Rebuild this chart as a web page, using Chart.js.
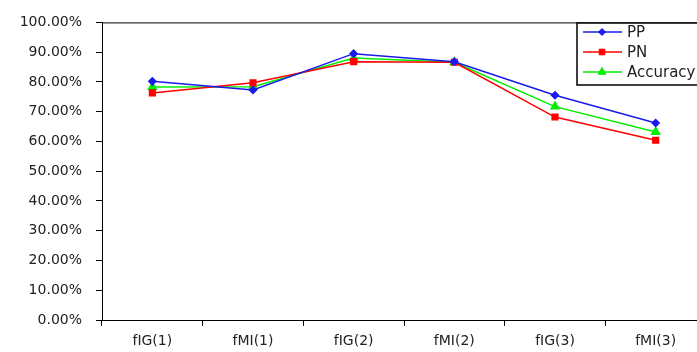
<!DOCTYPE html>
<html>
<head>
<meta charset="utf-8">
<script src="https://cdn.jsdelivr.net/npm/chart.js@4/dist/chart.umd.min.js"></script>
<style>
  html, body { margin: 0; padding: 0; background: #fff; overflow: hidden; }
  .chartBox { width: 712px; height: 352px; }
</style>
</head>
<body>
<div class="chartBox"><canvas id="myChart" width="712" height="352"></canvas></div>
<script>
const categories = ['fIG(1)', 'fMI(1)', 'fIG(2)', 'fMI(2)', 'fIG(3)', 'fMI(3)'];
const ppValues = [80.2, 77.3, 89.5, 86.8, 75.5, 66.2];
const pnValues = [76.3, 79.7, 86.8, 86.6, 68.2, 60.4];
const accuracyValues = [78.3, 78.4, 88.0, 86.6, 71.7, 63.2];
const yTicks = [0, 10, 20, 30, 40, 50, 60, 70, 80, 90, 100];

const FONT = 'DejaVu Sans';

// box around the plot area + boxed legend in the top right corner
const frameAndLegend = {
  id: 'frameAndLegend',
  afterDraw(chart) {
    const ctx = chart.ctx;
    const a = chart.chartArea;
    ctx.save();
    ctx.strokeStyle = '#000';
    ctx.lineWidth = 1;
    ctx.strokeRect(a.left + 0.5, a.top + 0.5, a.right - a.left, a.bottom - a.top);

    const bx = 577, by = 23, bw = 150, bh = 62;
    ctx.fillStyle = '#fff';
    ctx.fillRect(bx, by, bw, bh);
    ctx.lineWidth = 1.5;
    ctx.strokeRect(bx, by, bw, bh);

    chart.data.datasets.forEach((ds, i) => {
      const y = 32 + i * 20;
      ctx.strokeStyle = ds.borderColor;
      ctx.fillStyle = ds.borderColor;
      ctx.lineWidth = 1.5;
      ctx.beginPath();
      ctx.moveTo(583, y);
      ctx.lineTo(622, y);
      ctx.stroke();
      ctx.lineWidth = 1;
      Chart.helpers.drawPoint(ctx, {
        pointStyle: ds.pointStyle,
        radius: ds.pointRadius,
        borderWidth: 1
      }, 602, y);
      ctx.fillStyle = '#222';
      ctx.font = '15px "' + FONT + '"';
      ctx.textBaseline = 'middle';
      ctx.textAlign = 'left';
      ctx.fillText(ds.label, 627, y + 1);
    });
    ctx.restore();
  }
};

function series(label, data, color, style, r) {
  return {
    label,
    data,
    borderColor: color,
    backgroundColor: color,
    pointBackgroundColor: color,
    pointBorderColor: color,
    pointStyle: style,
    pointRadius: r,
    pointHoverRadius: r,
    borderWidth: 1.5,
    tension: 0
  };
}

const config = {
  type: 'line',
  data: {
    labels: categories,
    datasets: [
      series('PP', ppValues, '#1a1aee', 'rectRot', 3.5),
      series('PN', pnValues, '#ff0000', 'rect', 4),
      series('Accuracy', accuracyValues, '#00ee00', 'triangle', 4.5)
    ]
  },
  options: {
    responsive: false,
    animation: false,
    layout: { padding: { top: 19, right: 5, left: 0, bottom: 0 } },
    plugins: {
      legend: { display: false },
      tooltip: { enabled: false }
    },
    scales: {
      x: {
        offset: true,
        grid: {
          offset: true,
          drawOnChartArea: false,
          drawTicks: true,
          tickLength: 6,
          color: '#000'
        },
        border: { color: '#000', width: 1 },
        ticks: {
          color: '#222',
          padding: 7,
          font: { family: FONT, size: 14 }
        },
        afterFit(scale) { scale.height = 32; }
      },
      y: {
        min: 0,
        max: 100,
        afterBuildTicks(scale) { scale.ticks = yTicks.map(v => ({ value: v })); },
        grid: {
          drawOnChartArea: false,
          drawTicks: true,
          tickLength: 6,
          color: '#000'
        },
        border: { color: '#000', width: 1 },
        ticks: {
          color: '#222',
          padding: 14,
          font: { family: FONT, size: 14 },
          callback: v => v.toFixed(2) + '%'
        },
        afterFit(scale) { scale.width = 102; }
      }
    }
  },
  plugins: [frameAndLegend]
};

new Chart(document.getElementById('myChart'), config);
</script>
</body>
</html>
